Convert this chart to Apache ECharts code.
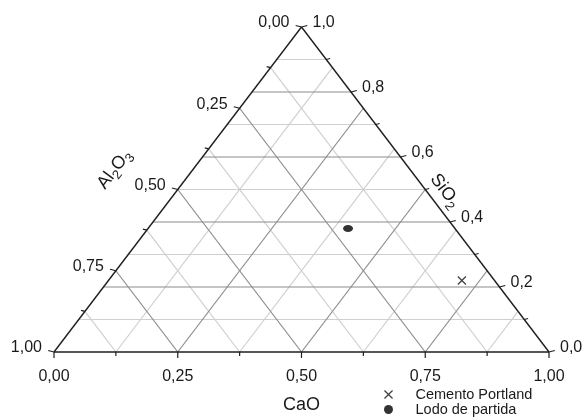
<!DOCTYPE html>
<html><head><meta charset="utf-8">
<script src="https://cdn.jsdelivr.net/npm/echarts@6/dist/echarts.min.js"></script>
<style>html,body{margin:0;padding:0;background:#fff}#c{width:584px;height:417px}</style>
</head><body><div id="c"></div>
<script>
// ---- ternary axes: ticks and labels ----
const caoTicks = [0, 0.25, 0.5, 0.75, 1];
const caoLabels = ['0,00', '0,25', '0,50', '0,75', '1,00'];
const caoMinor = [0.125, 0.375, 0.625, 0.875];
const al2o3Ticks = [0, 0.25, 0.5, 0.75, 1];
const al2o3Labels = ['0,00', '0,25', '0,50', '0,75', '1,00'];
const al2o3Minor = [0.125, 0.375, 0.625, 0.875];
const sio2Ticks = [0, 0.2, 0.4, 0.6, 0.8, 1];
const sio2Labels = ['0,0', '0,2', '0,4', '0,6', '0,8', '1,0'];
const sio2Minor = [0.1, 0.3, 0.5, 0.7, 0.9];

// ---- series (mass fractions) ----
const seriesNames = ['Cemento Portland', 'Lodo de partida'];
const cementoCaO = [0.714];
const cementoSiO2 = [0.220];
const cementoAl2O3 = [0.066];
const lodoCaO = [0.404];
const lodoSiO2 = [0.380];
const lodoAl2O3 = [0.216];

// axis titles: [text, subscript] parts
const titleCaO = [['CaO', 0]];
const titleAl2O3 = [['Al', 0], ['2', 1], ['O', 0], ['3', 1]];
const titleSiO2 = [['SiO', 0], ['2', 1]];

// ternary -> cartesian (CaO right, SiO2 top, Al2O3 left)
function xy(cao, sio2, al2o3) {
  const t = cao + sio2 + al2o3;
  const c = cao / t, s = sio2 / t;
  return [c + s / 2, s];
}

const FONT = '"Liberation Sans", Arial, sans-serif';
const TXT = '#1a1a1a';

// grid lines: [x1,y1,x2,y2,kind]  kind 0 light,1 dark,2 edge
const lines = [];
function sLine(s, k) { const a = xy(0, s, 1 - s), b = xy(1 - s, s, 0); lines.push([a[0], a[1], b[0], b[1], k]); }
function cLine(c, k) { const a = xy(c, 0, 1 - c), b = xy(c, 1 - c, 0); lines.push([a[0], a[1], b[0], b[1], k]); }
function aLine(al, k) { const a = xy(1 - al, 0, al), b = xy(0, 1 - al, al); lines.push([a[0], a[1], b[0], b[1], k]); }
sio2Minor.forEach(v => sLine(v, 0));
caoMinor.forEach(v => cLine(v, 0));
al2o3Minor.forEach(v => aLine(v, 0));
sio2Ticks.filter(v => v > 0 && v < 1).forEach(v => sLine(v, 1));
caoTicks.filter(v => v > 0 && v < 1).forEach(v => cLine(v, 1));
al2o3Ticks.filter(v => v > 0 && v < 1).forEach(v => aLine(v, 1));
[[0, 0, 1, 0], [0, 0, 0.5, 1], [1, 0, 0.5, 1]].forEach(e => lines.push([e[0], e[1], e[2], e[3], 2]));
const lineColors = ['#cfcfcf', '#8c8c8c', '#1e1e1e'];
const lineWidths = [1.2, 1.2, 1.4];

// ticks: [x,y,side,major]; side 0 bottom, 1 left, 2 right
const ticks = [];
caoTicks.forEach(v => { const p = xy(v, 0, 1 - v); ticks.push([p[0], p[1], 0, 1]); });
caoMinor.forEach(v => { const p = xy(v, 0, 1 - v); ticks.push([p[0], p[1], 0, 0]); });
al2o3Ticks.forEach(v => { const p = xy(0, 1 - v, v); ticks.push([p[0], p[1], 1, 1]); });
al2o3Minor.forEach(v => { const p = xy(0, 1 - v, v); ticks.push([p[0], p[1], 1, 0]); });
sio2Ticks.forEach(v => { const p = xy(1 - v, v, 0); ticks.push([p[0], p[1], 2, 1]); });
sio2Minor.forEach(v => { const p = xy(1 - v, v, 0); ticks.push([p[0], p[1], 2, 0]); });
const tickDir = [[0, 1], [-0.97, -0.25], [0.97, -0.25]];

// labels
const labelPts = [], labelInfo = [];
caoTicks.forEach((v, i) => { labelPts.push(xy(v, 0, 1 - v)); labelInfo.push([caoLabels[i], 0]); });
al2o3Ticks.forEach((v, i) => { labelPts.push(xy(0, 1 - v, v)); labelInfo.push([al2o3Labels[i], 1]); });
sio2Ticks.forEach((v, i) => { labelPts.push(xy(1 - v, v, 0)); labelInfo.push([sio2Labels[i], 2]); });

// text measuring for composed titles
const mctx = document.createElement('canvas').getContext('2d');
const TFS = 18, SFS = 13;
function titleGroup(parts, x, y, rot) {
  let w = 0;
  const widths = parts.map(p => { mctx.font = (p[1] ? SFS : TFS) + 'px ' + FONT; const ww = mctx.measureText(p[0]).width; w += ww; return ww; });
  let cx = -w / 2;
  const children = parts.map((p, i) => {
    const el = { type: 'text', x: cx, y: p[1] ? 6 : 0,
      style: { text: p[0], fill: TXT, fontSize: p[1] ? SFS : TFS, fontFamily: FONT, align: 'left', verticalAlign: 'middle' } };
    cx += widths[i];
    return el;
  });
  return { type: 'group', x: x, y: y, rotation: rot, children: children };
}

const chart = echarts.init(document.getElementById('c'), null, { renderer: 'canvas' });
const legendCommon = { orient: 'vertical', left: 379, itemWidth: 44, itemHeight: 9,
  textStyle: { fontSize: 14.5, fontFamily: FONT, color: TXT } };
chart.setOption({
  animation: false,
  backgroundColor: '#fff',
  grid: { left: 54, right: 35, top: 27, bottom: 65 },
  xAxis: { type: 'value', min: 0, max: 1, show: false },
  yAxis: { type: 'value', min: 0, max: 1, show: false },
  legend: [
    Object.assign({ top: 382, data: [seriesNames[0]] }, legendCommon),
    Object.assign({ top: 397, data: [seriesNames[1]] }, legendCommon)
  ],
  series: [
    {
      type: 'custom', clip: false, silent: true, z: 1,
      data: lines,
      renderItem: function (params, api) {
        const p1 = api.coord([api.value(0), api.value(1)]);
        const p2 = api.coord([api.value(2), api.value(3)]);
        const k = api.value(4);
        return { type: 'line', shape: { x1: p1[0], y1: p1[1], x2: p2[0], y2: p2[1] },
          style: { stroke: lineColors[k], lineWidth: lineWidths[k] } };
      }
    },
    {
      type: 'custom', clip: false, silent: true, z: 2,
      data: ticks,
      renderItem: function (params, api) {
        const p = api.coord([api.value(0), api.value(1)]);
        const d = tickDir[api.value(2)];
        const len = api.value(3) ? 6 : 4;
        return { type: 'line', shape: { x1: p[0], y1: p[1], x2: p[0] + d[0] * len, y2: p[1] + d[1] * len },
          style: { stroke: '#1e1e1e', lineWidth: 1.2 } };
      }
    },
    {
      type: 'custom', clip: false, silent: true, z: 3,
      data: labelPts,
      renderItem: function (params, api) {
        const p = api.coord([api.value(0), api.value(1)]);
        const info = labelInfo[params.dataIndex];
        const side = info[1];
        let x = p[0], y = p[1], align = 'center';
        if (side === 0) { y += 25; }
        else if (side === 1) { x -= 12; y -= 4; align = 'right'; }
        else { x += 11; y -= 4; align = 'left'; }
        return { type: 'text', x: x, y: y,
          style: { text: info[0], fill: TXT, fontSize: 16, fontFamily: FONT, align: align, verticalAlign: 'middle' } };
      }
    },
    {
      type: 'custom', clip: false, silent: true, z: 3,
      data: [[0.5, -0.163], [0.122, 0.562], [0.79, 0.496]],
      renderItem: function (params, api) {
        const p = api.coord([api.value(0), api.value(1)]);
        const i = params.dataIndex;
        const parts = [titleCaO, titleAl2O3, titleSiO2][i];
        const rot = [0, 0.922, -0.922][i];
        return titleGroup(parts, p[0], p[1], rot);
      }
    },
    {
      name: seriesNames[0], type: 'scatter', z: 5,
      symbol: 'path://M1,0L5,4L9,0L10,1L6,5L10,9L9,10L5,6L1,10L0,9L4,5L0,1Z',
      symbolSize: 9,
      itemStyle: { color: '#111' },
      data: cementoCaO.map((c, i) => xy(c, cementoSiO2[i], cementoAl2O3[i]))
    },
    {
      name: seriesNames[1], type: 'scatter', z: 5,
      symbol: 'circle', symbolSize: [10, 7],
      itemStyle: { color: '#000' },
      data: lodoCaO.map((c, i) => xy(c, lodoSiO2[i], lodoAl2O3[i]))
    }
  ]
});
</script></body></html>
